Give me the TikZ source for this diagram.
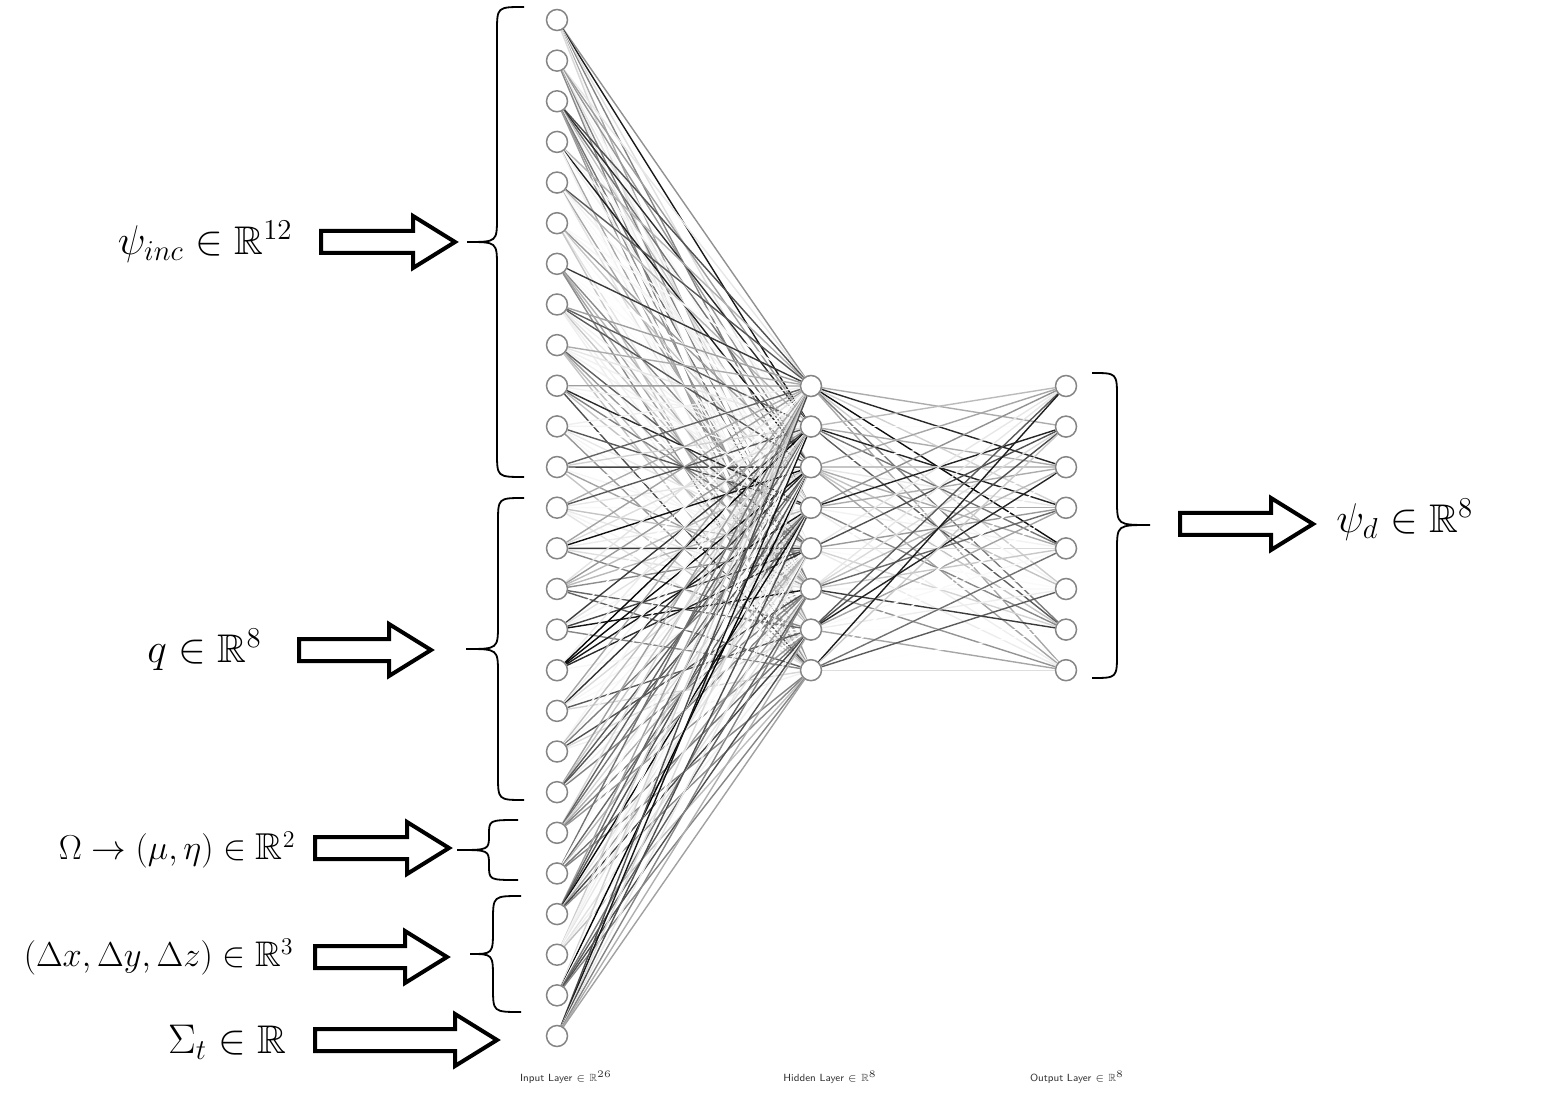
\documentclass[tikz,border=0pt]{standalone}
\usepackage{amssymb}
\usetikzlibrary{backgrounds}
\newcommand\blockarrow[3]{\draw[blockarr] (#1,{#3-11}) -- ({#2-42},{#3-11}) -- ({#2-42},{#3-26}) -- (#2,#3) -- ({#2-42},{#3+26}) -- ({#2-42},{#3+11}) -- (#1,{#3+11}) -- cycle;}
\begin{document}
\begin{tikzpicture}[x=0.5pt,y=-0.5pt,
  neuron/.style={circle,draw=black!48,fill=white,line width=0.75pt,minimum size=10.5pt,inner sep=0pt},
  brc/.style={line width=0.9pt,draw=black},
  blockarr/.style={draw=black,line width=2pt,fill=white,line join=miter},
  lbl/.style={font=\fontsize{20}{24}\selectfont,inner sep=0pt},
  lblsmall/.style={font=\fontsize{17.8}{22}\selectfont,inner sep=0pt},
  lblmid/.style={font=\fontsize{18.7}{22}\selectfont,inner sep=0pt},
  laylbl/.style={font=\fontsize{5.2}{6}\sffamily\selectfont,inner sep=0pt,text=black!80}]
\useasboundingbox (0,0) rectangle (1561,1095);
% neurons
\foreach \i in {1,...,26} \node[neuron] (i\i) at (557,{20+40.64*(\i-1)}) {};
\foreach \j in {1,...,8} \node[neuron] (h\j) at (811,{386+40.6*(\j-1)}) {};
\foreach \j in {1,...,8} \node[neuron] (o\j) at (1066,{386+40.6*(\j-1)}) {};
% connections
\begin{pgfonlayer}{background}
\pgfmathsetseed{11}
\foreach \i in {1,...,26} {
  \foreach \j in {1,...,8} {
    \pgfmathsetmacro\g{100*rnd^2}
    \draw[line width=0.7pt,draw=black!\g] (i\i) -- (h\j);
  }
}
\foreach \i in {1,...,8} {
  \foreach \j in {1,...,8} {
    \pgfmathsetmacro\g{100*rnd^2}
    \draw[line width=0.7pt,draw=black!\g] (h\i) -- (o\j);
  }
}
\end{pgfonlayer}
% braces
\draw[brc] (524,7) .. controls (497,7) .. (497,32) -- (497,217) .. controls (497,242) .. (467,242) .. controls (497,242) .. (497,267) -- (497,452) .. controls (497,477) .. (524,477);
\draw[brc] (524,498) .. controls (498,498) .. (498,523) -- (498,624) .. controls (498,649) .. (466,649) .. controls (498,649) .. (498,674) -- (498,775) .. controls (498,800) .. (524,800);
\draw[brc] (518,820) .. controls (489,820) .. (489,835) .. controls (489,850) .. (457,850) .. controls (489,850) .. (489,865) .. controls (489,880) .. (518,880);
\draw[brc] (521,896) .. controls (493,896) .. (493,921) -- (493,929) .. controls (493,954) .. (470,954) .. controls (493,954) .. (493,979) -- (493,987) .. controls (493,1012) .. (521,1012);
\draw[brc] (1092,373) .. controls (1117,373) .. (1117,398) -- (1117,500) .. controls (1117,525) .. (1150,525) .. controls (1117,525) .. (1117,550) -- (1117,653) .. controls (1117,678) .. (1092,678);
% block arrows
\blockarrow{321}{455}{242}
\blockarrow{299}{431}{650}
\blockarrow{315}{449}{848}
\blockarrow{315}{447}{957}
\blockarrow{315}{497}{1040}
\blockarrow{1180}{1313}{524}
% labels
\node[lbl,anchor=east] (lpsi) at (293,242) {$\psi_{inc}\in\mathbb{R}^{12}$};
\node[lbl,anchor=east] (lq) at (262,650) {$q\in\mathbb{R}^{8}$};
\node[lblmid,anchor=east] (lom) at (296,850) {$\Omega\rightarrow(\mu,\eta)\in\mathbb{R}^{2}$};
\node[lblsmall,anchor=east] (ldx) at (294,957) {$(\Delta x,\Delta y,\Delta z)\in\mathbb{R}^{3}$};
\node[lbl,anchor=east] (lsig) at (287,1042) {$\Sigma_t\in\mathbb{R}$};
\node[lbl,anchor=west] (lpd) at (1336,520) {$\psi_{d}\in\mathbb{R}^{8}$};
\node[laylbl] (lin) at (566,1077) {Input Layer $\in\mathbb{R}^{26}$};
\node[laylbl] (lhid) at (830,1077) {Hidden Layer $\in\mathbb{R}^{8}$};
\node[laylbl] (lout) at (1077,1077) {Output Layer $\in\mathbb{R}^{8}$};
\end{tikzpicture}
\end{document}
